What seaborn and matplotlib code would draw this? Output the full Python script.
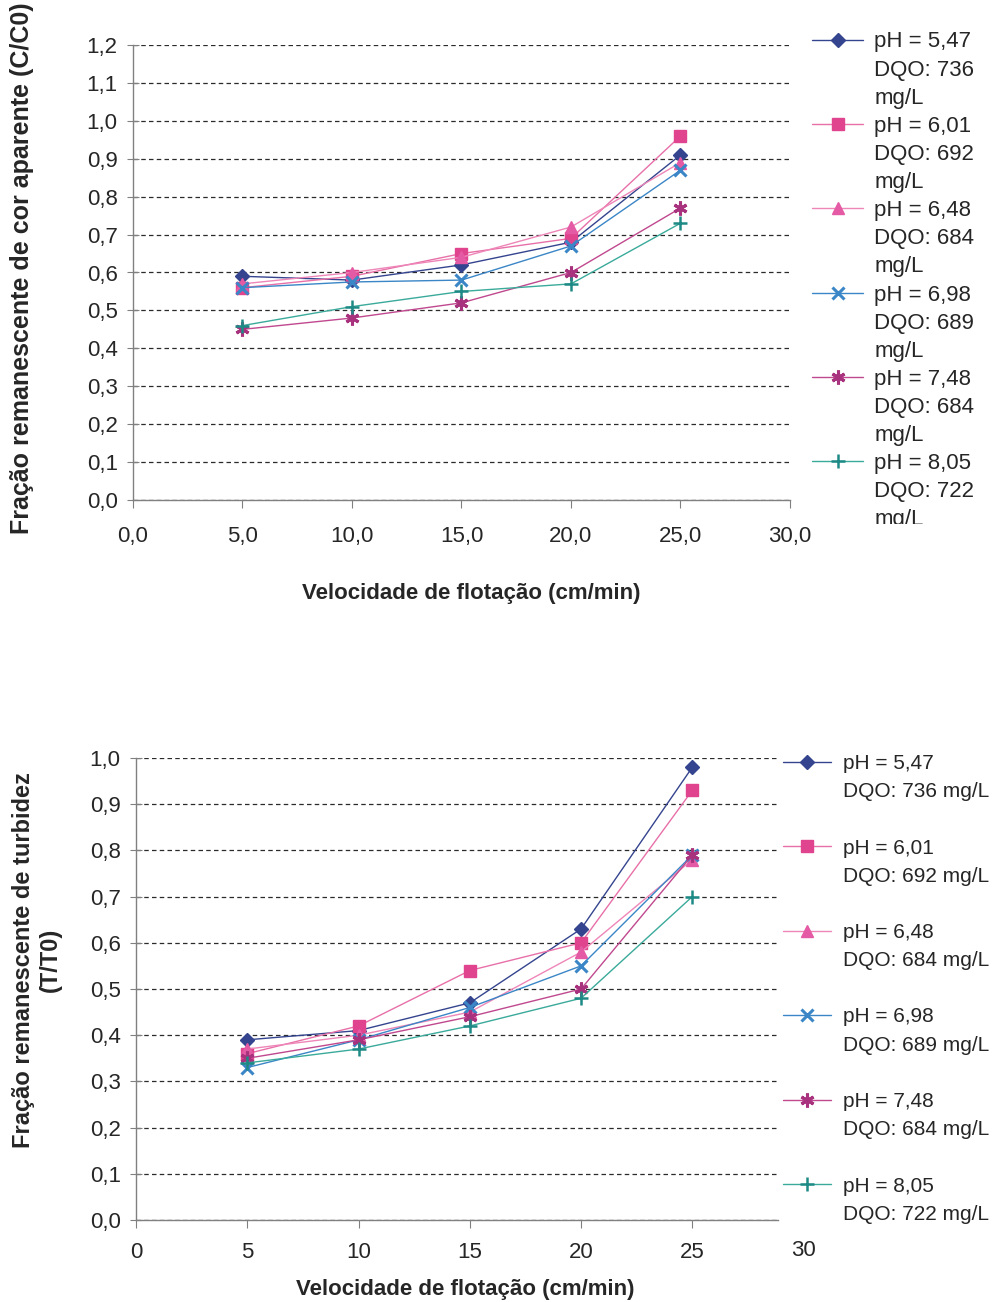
import numpy as np
import pandas as pd
import matplotlib
matplotlib.use("Agg")
import matplotlib.pyplot as plt
import seaborn as sns
from matplotlib.lines import Line2D
from matplotlib.ticker import FuncFormatter, MultipleLocator, FixedLocator
from matplotlib.transforms import Bbox, TransformedBbox

# ---------------- data ----------------
velocidade = [5, 10, 15, 20, 25]

ph_labels = ["pH = 5,47", "pH = 6,01", "pH = 6,48", "pH = 6,98", "pH = 7,48", "pH = 8,05"]
dqo_values = ["736", "692", "684", "689", "684", "722"]

# Fração remanescente de cor aparente (C/C0)
cor_547 = [0.59, 0.58, 0.62, 0.68, 0.91]
cor_601 = [0.56, 0.59, 0.65, 0.69, 0.96]
cor_648 = [0.57, 0.60, 0.64, 0.72, 0.89]
cor_698 = [0.56, 0.575, 0.58, 0.67, 0.87]
cor_748 = [0.45, 0.48, 0.52, 0.60, 0.77]
cor_805 = [0.46, 0.51, 0.55, 0.57, 0.73]

# Fração remanescente de turbidez (T/T0)
turb_547 = [0.39, 0.41, 0.47, 0.63, 0.98]
turb_601 = [0.36, 0.42, 0.54, 0.60, 0.93]
turb_648 = [0.37, 0.40, 0.45, 0.58, 0.78]
turb_698 = [0.33, 0.39, 0.46, 0.55, 0.79]
turb_748 = [0.35, 0.39, 0.44, 0.50, 0.79]
turb_805 = [0.34, 0.37, 0.42, 0.48, 0.70]

cor_series = [cor_547, cor_601, cor_648, cor_698, cor_748, cor_805]
turb_series = [turb_547, turb_601, turb_648, turb_698, turb_748, turb_805]

# ---------------- style ----------------
sns.set_style("white")
plt.rcParams["font.family"] = ["Liberation Sans", "DejaVu Sans"]

marker_colors = ["#34448e", "#e0448e", "#e45aa4", "#3a86c6", "#a8327e", "#1e8a86"]
line_colors = ["#34448e", "#e870a8", "#ee86b8", "#3a86c6", "#c0488e", "#3aaa9a"]
markers = ["D", "s", "^", "x", (6, 2, 0), "+"]
msizes = [7, 8.5, 9, 9, 10, 10]
mews = [1, 1, 1, 2.2, 2.2, 1.8]

fig = plt.figure(figsize=(9.95, 13.02), dpi=100)

ax1 = fig.add_axes([133 / 995, 1 - 500 / 1302, 657 / 995, 455 / 1302])
ax2 = fig.add_axes([136 / 995, 1 - 1220 / 1302, 642 / 995, 462 / 1302])


def draw_series(ax, series_list):
    for i, vals in enumerate(series_list):
        df = pd.DataFrame({"x": velocidade, "y": vals})
        sns.lineplot(data=df, x="x", y="y", ax=ax, color=line_colors[i],
                     marker=markers[i], markersize=msizes[i],
                     markerfacecolor=marker_colors[i],
                     markeredgecolor=marker_colors[i],
                     markeredgewidth=mews[i], linewidth=1.0,
                     legend=False, zorder=3 + i, clip_on=False)


draw_series(ax1, cor_series)
draw_series(ax2, turb_series)

comma1 = FuncFormatter(lambda v, p: f"{v:.1f}".replace(".", ","))
comma0 = FuncFormatter(lambda v, p: f"{v:.0f}")

TICK_FS = 16
for ax in (ax1, ax2):
    for s in ("top", "right"):
        ax.spines[s].set_visible(False)
    for s in ("left", "bottom"):
        ax.spines[s].set_color("#808080")
        ax.spines[s].set_linewidth(1.0)
    ax.yaxis.grid(True, linestyle=(0, (3.6, 2.6)), color="#2a2a2a", linewidth=0.9)
    ax.xaxis.grid(False)
    ax.tick_params(axis="y", direction="inout", length=8, color="#808080",
                   labelsize=TICK_FS, pad=7, left=True)
    ax.tick_params(axis="x", direction="out", length=6, color="#808080",
                   labelsize=TICK_FS, bottom=True)
    ax.yaxis.set_major_formatter(comma1)
    ax.set_facecolor("white")

# top axes
ax1.set_xlim(0, 30)
ax1.set_ylim(0, 1.2)
ax1.yaxis.set_major_locator(MultipleLocator(0.1))
ax1.xaxis.set_major_locator(MultipleLocator(5))
ax1.xaxis.set_major_formatter(comma1)
ax1.tick_params(axis="x", pad=13)
ax1.set_xlabel("Velocidade de flotação (cm/min)", fontsize=16, fontweight="bold")
ax1.set_ylabel("Fração remanescente de cor aparente (C/C0)", fontsize=18,
               fontweight="bold")
ax1.xaxis.set_label_coords((471 - 133) / 657, -(594 - 500) / 455)
ax1.yaxis.set_label_coords((22 - 133) / 657, (500 - 268) / 455)
ax1.xaxis.label.set_va("center")
ax1.yaxis.label.set_va("center")

# bottom axes
ax2.set_xlim(0, 28.85)
ax2.set_ylim(0, 1.0)
ax2.yaxis.set_major_locator(MultipleLocator(0.1))
ax2.xaxis.set_major_locator(FixedLocator([0, 5, 10, 15, 20, 25]))
ax2.xaxis.set_major_formatter(comma0)
ax2.tick_params(axis="x", pad=10)
ax2.text(30, -(1250 - 1220) / 462, "30", transform=ax2.get_xaxis_transform(),
         ha="center", va="center", fontsize=TICK_FS, clip_on=False)
ax2.set_xlabel("Velocidade de flotação (cm/min)", fontsize=16, fontweight="bold")
ax2.set_ylabel("Fração remanescente de turbidez\n(T/T0)", fontsize=17,
               fontweight="bold", linespacing=1.25)
ax2.xaxis.set_label_coords((465 - 136) / 642, -(1290 - 1220) / 462)
ax2.yaxis.set_label_coords((37 - 136) / 642, (1220 - 960) / 462)
ax2.xaxis.label.set_va("center")
ax2.yaxis.label.set_va("center")
ax2.yaxis.label.set_multialignment("center")


def make_handle(i):
    return Line2D([], [], color=line_colors[i], marker=markers[i],
                  markersize=msizes[i], markerfacecolor=marker_colors[i],
                  markeredgecolor=marker_colors[i], markeredgewidth=mews[i],
                  linewidth=1.0)


blank = Line2D([], [], linestyle="none", marker=None)

# top legend: three rows per entry (text wraps in the original)
h_top, l_top = [], []
for i in range(6):
    h_top += [make_handle(i), blank, blank]
    l_top += [ph_labels[i], f"DQO: {dqo_values[i]}", "mg/L"]
leg1 = fig.legend(h_top, l_top, loc="upper left",
                  bbox_to_anchor=(812 / 995, 1 - 31.5 / 1302),
                  frameon=False, fontsize=16, handlelength=2.3,
                  handletextpad=0.5, labelspacing=0.32, borderpad=0,
                  borderaxespad=0)
clip = TransformedBbox(Bbox.from_extents(0, 1 - 524 / 1302, 1, 1), fig.transFigure)
for t in leg1.get_texts():
    t.set_clip_box(clip)
    t.set_clip_on(True)

# bottom legend
h_bot, l_bot = [], []
for i in range(6):
    h_bot += [make_handle(i), blank, blank]
    l_bot += [ph_labels[i], f"DQO: {dqo_values[i]} mg/L", ""]
leg2 = fig.legend(h_bot, l_bot, loc="upper left",
                  bbox_to_anchor=(783 / 995, 1 - 754 / 1302),
                  frameon=False, fontsize=15, handlelength=2.3,
                  handletextpad=0.6, labelspacing=0.44, borderpad=0,
                  borderaxespad=0)

fig.savefig("out.png", dpi=100, facecolor="white")
